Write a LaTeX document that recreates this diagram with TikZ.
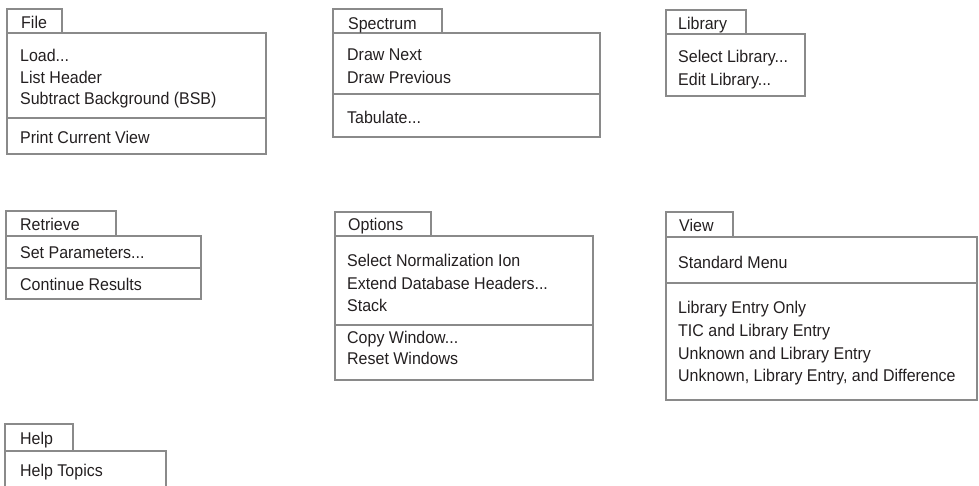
\documentclass[tikz,border=0pt]{standalone}
\usepackage{fontspec}
\setmainfont{Liberation Sans}[FakeStretch=0.94]
\definecolor{frame}{HTML}{8A8A8A}
\definecolor{ink}{HTML}{231F20}
\begin{document}
\begin{tikzpicture}[x=1pt,y=-1pt,
  box/.style={draw=frame,line width=1.6pt},
  item/.style={anchor=base west,inner sep=0pt,text=ink,font=\fontsize{17}{20}\selectfont}]
\useasboundingbox (0,0) rectangle (979,485);
\begin{scope}
\clip (0,0) rectangle (979,485);

% File menu
\draw[box] (7,9) rectangle (62,33);
\draw[box] (7,33) rectangle (266,154);
\draw[box] (7,118) -- (266,118);
\node[item] (file) at (21,28) {File};
\node[item] (load) at (20,61) {Load...};
\node[item] (listhdr) at (20,83) {List Header};
\node[item] (bsb) at (20,104) {Subtract Background (BSB)};
\node[item] (print) at (20,143) {Print Current View};

% Spectrum menu
\draw[box] (333,9) rectangle (442,33);
\draw[box] (333,33) rectangle (600,137);
\draw[box] (333,94) -- (600,94);
\node[item] (spectrum) at (348,29) {Spectrum};
\node[item] (next) at (347,60) {Draw Next};
\node[item] (prev) at (347,83) {Draw Previous};
\node[item] (tab) at (347,123) {Tabulate...};

% Library menu
\draw[box] (666,10) rectangle (746,34);
\draw[box] (666,34) rectangle (805,96);
\node[item] (library) at (678,29) {Library};
\node[item] (sellib) at (678,62) {Select Library...};
\node[item] (editlib) at (678,85) {Edit Library...};

% Retrieve menu
\draw[box] (6,211) rectangle (116,236);
\draw[box] (6,236) rectangle (201,299);
\draw[box] (6,268) -- (201,268);
\node[item] (retrieve) at (20,230) {Retrieve};
\node[item] (setpar) at (20,258) {Set Parameters...};
\node[item] (cont) at (20,290) {Continue Results};

% Options menu
\draw[box] (335,212) rectangle (431,236);
\draw[box] (335,236) rectangle (593,380);
\draw[box] (335,325) -- (593,325);
\node[item] (options) at (348,230) {Options};
\node[item] (normion) at (347,266) {Select Normalization Ion};
\node[item] (extdb) at (347,289) {Extend Database Headers...};
\node[item] (stack) at (347,311) {Stack};
\node[item] (copywin) at (347,343) {Copy Window...};
\node[item] (resetwin) at (347,364) {Reset Windows};

% View menu
\draw[box] (666,212) rectangle (733,237);
\draw[box] (666,237) rectangle (977,400);
\draw[box] (666,283) -- (977,283);
\node[item] (view) at (679,231) {View};
\node[item] (stdmenu) at (678,268) {Standard Menu};
\node[item] (libonly) at (678,313) {Library Entry Only};
\node[item] (ticlib) at (678,336) {TIC and Library Entry};
\node[item] (unklib) at (678,359) {Unknown and Library Entry};
\node[item] (unkdiff) at (678,381) {Unknown, Library Entry, and Difference};

% Help menu
\draw[box] (5,424) rectangle (73,451);
\draw[box] (5,451) rectangle (166,500);
\node[item] (help) at (20,444) {Help};
\node[item] (topics) at (20,476) {Help Topics};
\end{scope}
\end{tikzpicture}
\end{document}
